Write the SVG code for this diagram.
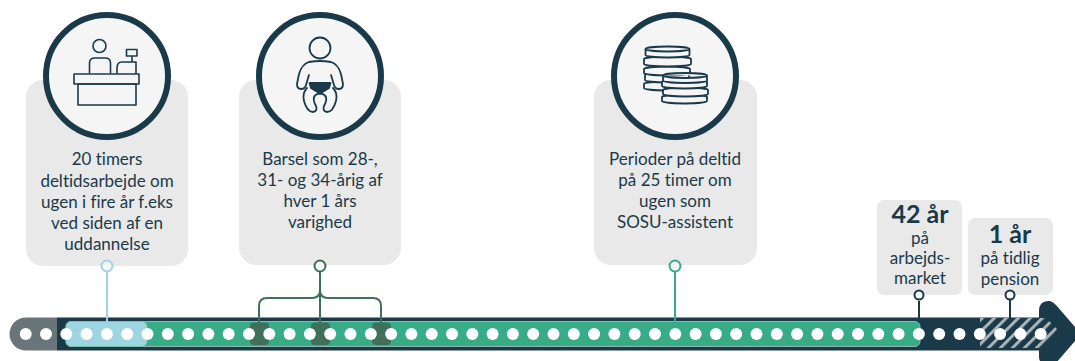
<svg xmlns="http://www.w3.org/2000/svg" width="1075" height="361" viewBox="0 0 1075 361">
<style>
text{font-family:Lato,"Liberation Sans",sans-serif;fill:#1a3a4a;text-anchor:middle;font-variant-ligatures:none}
.t{font-size:17px}
.b{font-size:25px;font-weight:700}
.s{font-size:17px}
.card{fill:#e9e9e9}
.ring{fill:#f5f5f5;stroke:#1a3a4a;stroke-width:6}
.ic{fill:none;stroke:#1a3a4a;stroke-width:1.6;stroke-linejoin:round;stroke-linecap:round}
.coin path{fill:#f5f5f5;stroke:#1a3a4a;stroke-width:1.8}
.dot{fill:#fff}
.gc{fill:none;stroke:#41705a;stroke-width:2}
.pin{fill:#f5f5f5;stroke-width:2}
</style>
<defs>
<pattern id="h" width="8.500" height="12" patternUnits="userSpaceOnUse" patternTransform="rotate(45)"><rect width="8.500" height="12" fill="#1a3a4a"/><rect width="3" height="12" fill="#a9b4b8"/></pattern>
<circle id="d" class="dot" r="6"/>
</defs>
<g id="timeline">
<path d="M57 317.500H26a16.500 16.500 0 0 0 0 33H57z" fill="#6a7579"/>
<path d="M57 317.500H1039V311Q1039 300 1050 301 1053 302 1056 305L1081 334 1056 363Q1039 367 1039 357V350.500H57z" fill="#1a3a4a"/>
<path d="M980 318H1046L1057 329 1046 348H980z" fill="url(#h)"/>
<rect x="66" y="321.500" width="854" height="25" rx="5" fill="#38ab87" stroke="#8fb8ab" stroke-width="1"/>
<rect x="66" y="321.500" width="81" height="25" rx="5" fill="#9dd5e1" stroke="#7cc0b0" stroke-width="1"/>
<rect x="250" y="322.500" width="19" height="22.500" rx="4" fill="#41705a"/>
<rect x="311" y="322.500" width="19" height="22.500" rx="4" fill="#41705a"/>
<rect x="372" y="322.500" width="19" height="22.500" rx="4" fill="#41705a"/>
</g>
<g id="dots">
<use href="#d" x="25.700" y="334"/><use href="#d" x="46" y="334"/><use href="#d" x="66.300" y="334"/><use href="#d" x="86.600" y="334"/><use href="#d" x="106.900" y="334"/><use href="#d" x="127.200" y="334"/><use href="#d" x="147.500" y="334"/><use href="#d" x="167.800" y="334"/><use href="#d" x="188.100" y="334"/><use href="#d" x="208.400" y="334"/><use href="#d" x="228.700" y="334"/><use href="#d" x="249" y="334"/><use href="#d" x="269.300" y="334"/><use href="#d" x="289.600" y="334"/><use href="#d" x="309.900" y="334"/><use href="#d" x="330.200" y="334"/><use href="#d" x="350.500" y="334"/><use href="#d" x="370.800" y="334"/><use href="#d" x="391.100" y="334"/><use href="#d" x="411.400" y="334"/><use href="#d" x="431.700" y="334"/><use href="#d" x="452" y="334"/><use href="#d" x="472.300" y="334"/><use href="#d" x="492.600" y="334"/><use href="#d" x="512.900" y="334"/><use href="#d" x="533.200" y="334"/><use href="#d" x="553.500" y="334"/><use href="#d" x="573.800" y="334"/><use href="#d" x="594.100" y="334"/><use href="#d" x="614.400" y="334"/><use href="#d" x="634.700" y="334"/><use href="#d" x="655" y="334"/><use href="#d" x="675.300" y="334"/><use href="#d" x="695.600" y="334"/><use href="#d" x="715.900" y="334"/><use href="#d" x="736.200" y="334"/><use href="#d" x="756.500" y="334"/><use href="#d" x="776.800" y="334"/><use href="#d" x="797.100" y="334"/><use href="#d" x="817.400" y="334"/><use href="#d" x="837.700" y="334"/><use href="#d" x="858" y="334"/><use href="#d" x="878.300" y="334"/><use href="#d" x="898.600" y="334"/><use href="#d" x="918.900" y="334"/><use href="#d" x="939.200" y="334"/><use href="#d" x="959.500" y="334"/><use href="#d" x="979.800" y="334"/><use href="#d" x="1000.100" y="334"/><use href="#d" x="1020.400" y="334"/><use href="#d" x="1040.700" y="334"/>
</g>
<g id="connectors">
<line x1="107" y1="272" x2="107" y2="322" stroke="#9dd5e1" stroke-width="2"/>
<path class="gc" d="M320 272V325M320 290Q320 298 312 298H267Q259 298 259 306V325M320 290Q320 298 328 298H373Q381 298 381 306V325"/>
<line x1="675" y1="272" x2="675" y2="322" stroke="#38ab87" stroke-width="2"/>
<line x1="919" y1="301" x2="919" y2="320" stroke="#1a3a4a" stroke-width="2"/>
<line x1="1010" y1="300" x2="1010" y2="320" stroke="#1a3a4a" stroke-width="2"/>
</g>
<g id="node-deltid">
<rect class="card" x="26" y="80" width="162" height="186" rx="17"/>
<circle class="ring" cx="107" cy="76" r="61"/>
<g class="ic"><circle cx="99.500" cy="46" r="6.500"/><path d="M89.500 73V63Q89.500 58 95 58H105Q110.500 58 110.500 63V73"/><path d="M117 73V68Q117 62 122 62H136V73M132 62V56M126.500 56V49.500H137V56Z"/><rect x="74" y="74" width="65" height="10"/><rect x="78" y="84" width="58" height="21"/></g>
<text class="t"><tspan x="107" y="165">20 timers</tspan><tspan x="107" y="187">deltidsarbejde om</tspan><tspan x="107" y="208">ugen i fire år f.eks</tspan><tspan x="107" y="229">ved siden af en</tspan><tspan x="107" y="250">uddannelse</tspan></text>
<circle class="pin" cx="107" cy="266" r="5.500" stroke="#9dd5e1"/>
</g>
<g id="node-barsel">
<rect class="card" x="239" y="80" width="162" height="185" rx="17"/>
<circle class="ring" cx="320" cy="76" r="61"/>
<g class="ic" style="stroke-width:1.8"><circle cx="320" cy="48" r="10.500"/><path d="M309 62Q315 61 320 61 325 61 331 62 338 64 341 74L343 84Q343 89 339 89 335 89 334 85L331 75M309 62Q302 64 299 74L297 84Q297 89 301 89 305 89 306 85L309 75"/><path d="M309.500 83H330.500L329 88Q323 92 320 93 317 92 311 88Z" fill="#1a3a4a"/><path d="M307 88Q302 93 304 101 307 112 313 112 318 111 316 106 313 101 314 97 316 93 320 94 324 93 326 97 327 101 324 106 322 111 327 112 333 112 336 101 338 93 333 88"/></g>
<text class="t"><tspan x="320" y="165">Barsel som 28-,</tspan><tspan x="320" y="186">31- og 34-årig af</tspan><tspan x="320" y="207">hver 1 års</tspan><tspan x="320" y="228">varighed</tspan></text>
<circle class="pin" cx="320" cy="266" r="5.500" stroke="#41705a"/>
</g>
<g id="node-sosu">
<rect class="card" x="594" y="80" width="163" height="185" rx="17"/>
<circle class="ring" cx="675" cy="76" r="61"/>
<g class="coin">
<path d="M644 84a22 2.500 0 0 1 44 0v4a22 2.500 0 0 1 -44 0z"/>
<path d="M645 75a22 2.500 0 0 1 44 0v5a22 2.500 0 0 1 -44 0z"/>
<path d="M644 69a23 2.500 0 0 1 46 0v4a23 2.500 0 0 1 -46 0z"/>
<path d="M644 59a23.500 2.500 0 0 1 47 0v5a23.500 2.500 0 0 1 -47 0z"/>
<path d="M645.500 49a22 2.500 0 0 1 44 0v6a22 2.500 0 0 1 -44 0zM645.500 49a22 2.500 0 0 0 44 0"/>
<path d="M662 97a22.500 2.500 0 0 1 45 0v4a22.500 2.500 0 0 1 -45 0z"/>
<path d="M663 90a22.500 2.500 0 0 1 45 0v4a22.500 2.500 0 0 1 -45 0z"/>
<path d="M662 82a22.500 2.500 0 0 1 45 0v4a22.500 2.500 0 0 1 -45 0z"/>
<path d="M663 75.500a22 2.500 0 0 1 44 0v5a22 2.500 0 0 1 -44 0zM663 75.500a22 2.500 0 0 0 44 0"/>
</g>
<text class="t"><tspan x="675" y="165">Perioder på deltid</tspan><tspan x="675" y="186">på 25 timer om</tspan><tspan x="675" y="207">ugen som</tspan><tspan x="675" y="228">SOSU-assistent</tspan></text>
<circle class="pin" cx="675" cy="266" r="5.500" stroke="#38ab87"/>
</g>
<g id="node-42">
<rect class="card" x="877" y="200" width="85" height="95" rx="7"/>
<text class="b" x="920" y="223">42 år</text>
<text class="s"><tspan x="920" y="244">på</tspan><tspan x="920" y="264">arbejds-</tspan><tspan x="920" y="284">market</tspan></text>
<circle class="pin" cx="919" cy="295" r="4.500" stroke="#1a3a4a"/>
</g>
<g id="node-1">
<rect class="card" x="968" y="218" width="85" height="77" rx="7"/>
<text class="b" x="1010" y="243">1 år</text>
<text class="s"><tspan x="1010" y="264">på tidlig</tspan><tspan x="1010" y="285">pension</tspan></text>
<circle class="pin" cx="1010" cy="295" r="4.500" stroke="#1a3a4a"/>
</g>
</svg>
